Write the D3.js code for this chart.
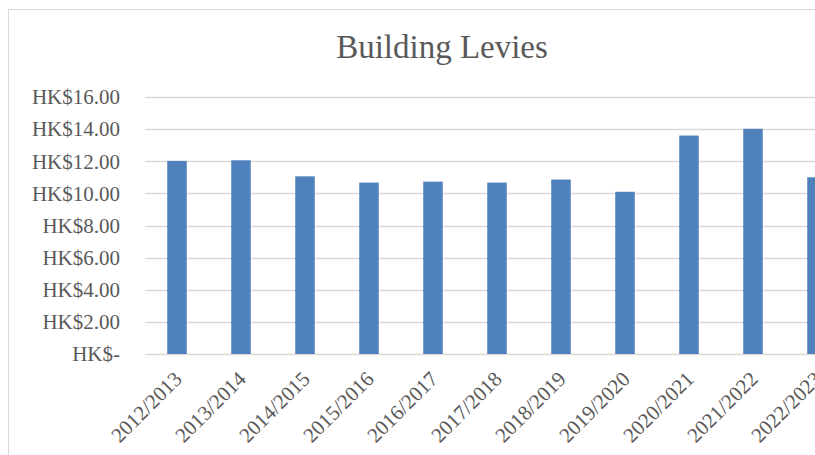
<!DOCTYPE html>
<html>
<head>
<meta charset="utf-8">
<script src="https://cdn.jsdelivr.net/npm/d3@7"></script>
<style>
  body { margin: 0; background: #fff; overflow: hidden; }
  text { font-family: "Liberation Serif", serif; fill: #595959; }
</style>
</head>
<body>
<div id="viz"></div>
<script>
var categories = ['2012/2013', '2013/2014', '2014/2015', '2015/2016', '2016/2017',
  '2017/2018', '2018/2019', '2019/2020', '2020/2021', '2021/2022', '2022/2023'];
var levies = [12.02, 12.06, 11.06, 10.67, 10.73, 10.67, 10.86, 10.1, 13.6, 14.02, 11.0];
var yTicks = [0, 2, 4, 6, 8, 10, 12, 14, 16];

var width = 815, height = 455;
var plot = { left: 145, right: 849, top: 97, bottom: 354 };

var svg = d3.select('#viz').append('svg')
  .attr('width', width)
  .attr('height', height);

// chart frame (cut off at right and bottom like the original)
svg.append('rect')
  .attr('x', 8.5).attr('y', 9.5)
  .attr('width', 900).attr('height', 600)
  .attr('fill', 'none')
  .attr('stroke', '#d9d9d9');

svg.append('text')
  .attr('x', 442).attr('y', 58)
  .attr('text-anchor', 'middle')
  .style('font-size', '33px')
  .text('Building Levies');

var x = d3.scaleBand()
  .domain(categories)
  .range([plot.left, plot.right]);
var y = d3.scaleLinear()
  .domain([0, 16])
  .range([plot.bottom, plot.top]);

var fmt = function (d) {
  return d === 0 ? 'HK$-' : 'HK$' + d3.format('.2f')(d);
};

// gridlines
svg.append('g').selectAll('line')
  .data(yTicks).enter()
  .append('line')
  .attr('x1', plot.left).attr('x2', plot.right)
  .attr('y1', function (d) { return Math.round(y(d)) + 0.5; })
  .attr('y2', function (d) { return Math.round(y(d)) + 0.5; })
  .attr('stroke', '#d9d9d9')
  .attr('stroke-width', 1.5);

// y labels
svg.append('g').selectAll('text')
  .data(yTicks).enter()
  .append('text')
  .attr('x', 120)
  .attr('y', function (d) { return y(d); })
  .attr('dy', '0.35em')
  .attr('text-anchor', 'end')
  .style('font-size', '21px')
  .text(fmt);

// bars
var barW = x.bandwidth() * 0.305;
svg.append('g').selectAll('rect')
  .data(levies).enter()
  .append('rect')
  .attr('x', function (d, i) { return x(categories[i]) + (x.bandwidth() - barW) / 2; })
  .attr('y', function (d) { return y(d); })
  .attr('width', barW)
  .attr('height', function (d) { return plot.bottom - y(d); })
  .attr('fill', '#4f81bd');

// x labels
svg.append('g').selectAll('text')
  .data(categories).enter()
  .append('text')
  .attr('transform', function (d) {
    var cx = x(d) + x.bandwidth() / 2 + 1;
    return 'translate(' + cx + ',375) rotate(-45)';
  })
  .attr('text-anchor', 'end')
  .attr('dy', '0.35em')
  .style('font-size', '21px')
  .text(function (d) { return d; });
</script>
</body>
</html>
